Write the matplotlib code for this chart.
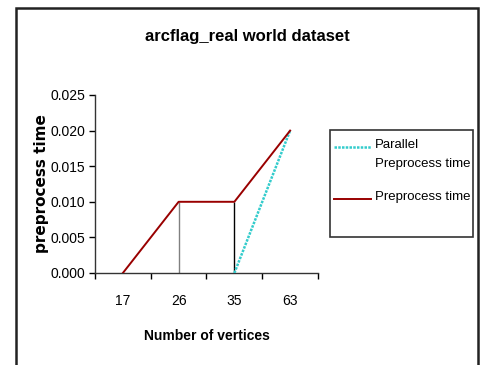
import numpy as np
import matplotlib
matplotlib.use("Agg")
from matplotlib import pyplot as plt
from matplotlib.patches import Rectangle
from matplotlib.lines import Line2D

vertices = ["17", "26", "35", "63"]
preprocess = [0.000, 0.010, 0.010, 0.020]
parallel = [np.nan, np.nan, 0.000, 0.020]
drop_at = [1, 2]
drop_colors = ["#808080", "#000000"]
series_names = ["Parallel\nPreprocess time", "Preprocess time"]

plt.rcParams["font.family"] = ["Liberation Sans", "DejaVu Sans"]

fig = plt.figure(figsize=(4.85, 3.65), dpi=100)
fig.patch.set_facecolor("white")
# outer chart-area border, open at the bottom
fig.patches.append(Rectangle((16/485, -0.05), (478-16)/485, 1.05 - 8/365,
                             transform=fig.transFigure, fill=False,
                             edgecolor="#222222", linewidth=1.8))

ax = fig.add_axes([95/485, 1-273/365, (318-95)/485, (273-95)/365])
x = np.arange(len(vertices))

dotted = (0, (1, 0.5))
ax.vlines([x[i] for i in drop_at], 0, [preprocess[i] for i in drop_at],
          colors=drop_colors, linewidth=1.0, zorder=2)
l_par, = ax.plot(x, parallel, color="#33CCCC", linewidth=1.8,
                 linestyle=dotted, zorder=3)
l_pre, = ax.plot(x, preprocess, color="#990000", linewidth=1.4, zorder=4)

ax.set_xlim(-0.5, len(vertices) - 0.5)
ax.set_ylim(0, 0.025)
ax.set_xticks(np.arange(-0.5, len(vertices), 1.0))
ax.set_xticklabels([])
ax.set_xticks(x, minor=True)
ax.set_xticklabels(vertices, minor=True, fontsize=10)
ax.tick_params(axis="x", which="major", direction="out", length=4, width=1)
ax.tick_params(axis="x", which="minor", length=0, pad=15)
yt = np.arange(0, 0.0251, 0.005)
ax.set_yticks(yt)
ax.set_yticklabels(["%.3f" % v for v in yt], fontsize=10)
ax.tick_params(axis="y", direction="out", length=4, width=1, pad=3)

for s in ["top", "right"]:
    ax.spines[s].set_visible(False)
for s in ["left", "bottom"]:
    ax.spines[s].set_color("#333333")
    ax.spines[s].set_linewidth(1.0)

ax.set_xlabel("Number of vertices", fontsize=10, fontweight="bold", labelpad=15)
ax.set_ylabel("preprocess time", fontsize=11, fontweight="bold",
              family="DejaVu Sans", labelpad=1)
fig.text(247/485, 1-37/365, "arcflag_real world dataset", fontsize=12,
         fontweight="bold", ha="center", va="center")

# legend box with the two series
fig.patches.append(Rectangle((330/485, 1-237/365), (473-330)/485, (237-130)/365,
                             transform=fig.transFigure, fill=False,
                             edgecolor="#333333", linewidth=1.2))
for line, name, y in [(l_par, series_names[0], 147), (l_pre, series_names[1], 199)]:
    fig.add_artist(Line2D([334/485, 371/485], [1-y/365, 1-y/365],
                          transform=fig.transFigure, color=line.get_color(),
                          linewidth=line.get_linewidth(),
                          linestyle=dotted if line is l_par else "-"))
    fig.text(375/485, 1-(y-8)/365, name, fontsize=9.5, ha="left", va="top",
             linespacing=1.75)

fig.savefig("out.png", dpi=100)
